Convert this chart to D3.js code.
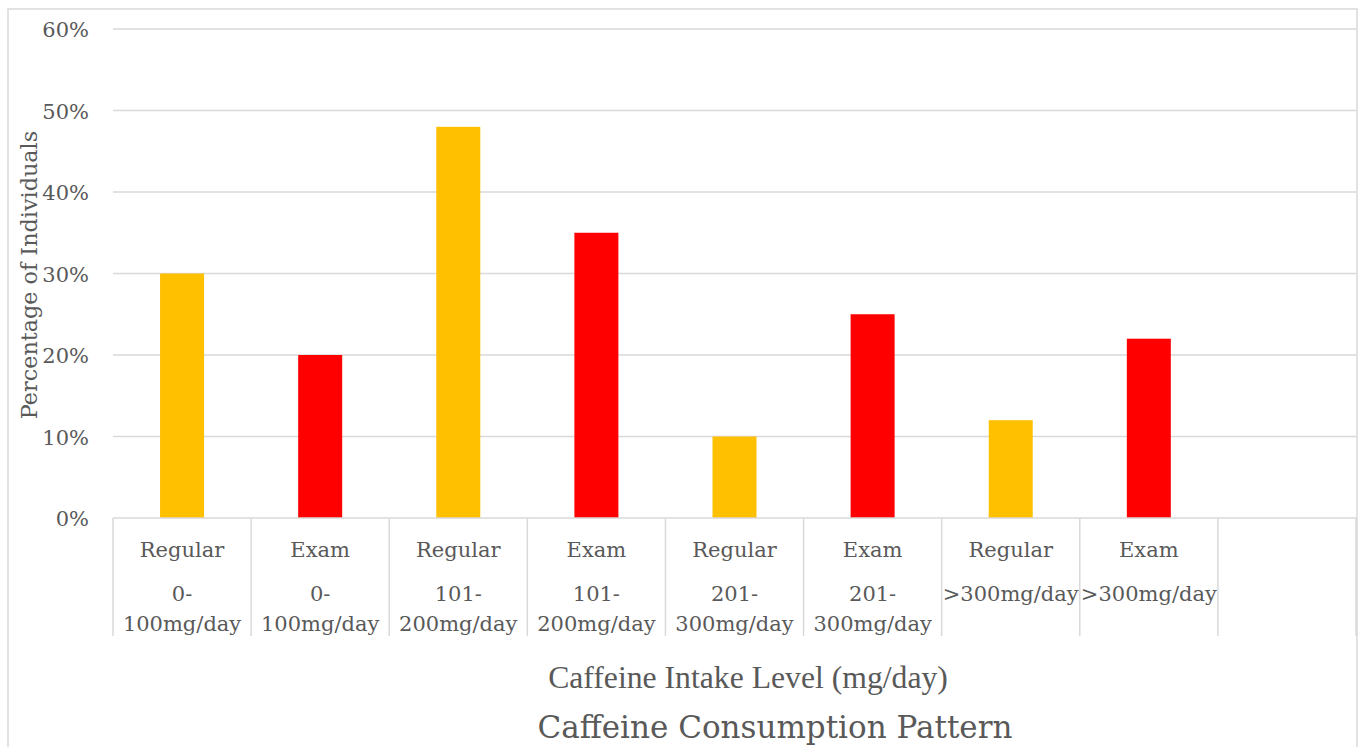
<!DOCTYPE html>
<html>
<head>
<meta charset="utf-8">
<script src="https://cdn.jsdelivr.net/npm/d3@7"></script>
<style>
  html, body { margin: 0; padding: 0; background: #fff; }
  svg { display: block; }
</style>
</head>
<body>
<svg id="chart" width="1359" height="747"></svg>
<script>
// ---- data ----
const categories = [
  "Regular 0-100mg/day", "Exam 0-100mg/day",
  "Regular 101-200mg/day", "Exam 101-200mg/day",
  "Regular 201-300mg/day", "Exam 201-300mg/day",
  "Regular >300mg/day", "Exam >300mg/day", ""
];
const labelLines = [
  ["Regular", "0-", "100mg/day"], ["Exam", "0-", "100mg/day"],
  ["Regular", "101-", "200mg/day"], ["Exam", "101-", "200mg/day"],
  ["Regular", "201-", "300mg/day"], ["Exam", "201-", "300mg/day"],
  ["Regular", ">300mg/day"], ["Exam", ">300mg/day"], []
];
const values = [30, 20, 48, 35, 10, 25, 12, 22, null];
const groups = ["Regular", "Exam", "Regular", "Exam", "Regular", "Exam", "Regular", "Exam", ""];
const yTicks = [0, 10, 20, 30, 40, 50, 60];
const colors = { Regular: "#FFC000", Exam: "#FF0000" };

(function () {
const svg = d3.select("#chart");
const mLeft = 113, mRight = 1356, mTop = 29, mBottom = 518;
const textColor = "#595959";
const gridColor = "#d9d9d9";
const serif = "'DejaVu Serif', serif";

// chart border
svg.append("rect").attr("x", 8).attr("y", 9).attr("width", 1349).attr("height", 760)
  .attr("fill", "#fff").attr("stroke", gridColor).attr("stroke-width", 1.5);

const x = d3.scaleBand().domain(categories.map((d, i) => i)).range([mLeft, mRight]).paddingInner(0).paddingOuter(0);
const y = d3.scaleLinear().domain([0, 60]).range([mBottom, mTop]);

// gridlines
svg.append("g").selectAll("line").data(yTicks.filter(d => d > 0)).join("line")
  .attr("x1", mLeft).attr("x2", mRight)
  .attr("y1", d => y(d)).attr("y2", d => y(d))
  .attr("stroke", gridColor).attr("stroke-width", 1.5);

// y axis labels
const yAxis = d3.axisLeft(y).tickValues(yTicks).tickFormat(d => d + "%").tickSize(0).tickPadding(0);
const gy = svg.append("g").attr("transform", `translate(${mLeft - 24},0)`).call(yAxis);
gy.select(".domain").remove();
gy.selectAll("text").attr("font-family", serif).attr("font-size", 21).attr("fill", textColor).attr("dy", "0.36em");

// bars
const bw = 44;
svg.append("g").selectAll("rect").data(values.map((v, i) => ({ v, i })).filter(d => d.v != null)).join("rect")
  .attr("x", d => x(d.i) + x.bandwidth() / 2 - bw / 2)
  .attr("width", bw)
  .attr("y", d => y(d.v))
  .attr("height", d => y(0) - y(d.v))
  .attr("fill", d => colors[groups[d.i]]);

// x axis baseline and separators
svg.append("line").attr("x1", mLeft).attr("x2", mRight).attr("y1", y(0)).attr("y2", y(0))
  .attr("stroke", gridColor).attr("stroke-width", 1.5);
const edges = categories.map((d, i) => x(i)).concat([mRight]);
svg.append("g").selectAll("line").data(edges).join("line")
  .attr("x1", d => d).attr("x2", d => d).attr("y1", y(0)).attr("y2", 636)
  .attr("stroke", gridColor).attr("stroke-width", 1.5);

// category labels
const lg = svg.append("g").attr("font-family", serif).attr("font-size", 21).attr("fill", textColor).attr("text-anchor", "middle");
labelLines.forEach((lines, i) => {
  const cx = x(i) + x.bandwidth() / 2;
  lines.forEach((t, j) => {
    const yy = j === 0 ? 557 : 601 + (j - 1) * 30;
    lg.append("text").attr("x", cx).attr("y", yy).text(t);
  });
});

// axis titles
svg.append("text").attr("x", 748).attr("y", 688).attr("text-anchor", "middle")
  .attr("font-family", "'Liberation Serif', serif").attr("font-size", 31.7).attr("fill", textColor)
  .text("Caffeine Intake Level (mg/day)");

svg.append("text").attr("transform", "translate(37,275) rotate(-90)").attr("text-anchor", "middle")
  .attr("font-family", serif).attr("font-size", 22.3).attr("fill", textColor)
  .text("Percentage of Individuals");

// chart title
svg.append("text").attr("x", 775).attr("y", 738).attr("text-anchor", "middle")
  .attr("font-family", serif).attr("font-size", 31).attr("fill", textColor)
  .text("Caffeine Consumption Pattern");
})();
</script>
</body>
</html>
